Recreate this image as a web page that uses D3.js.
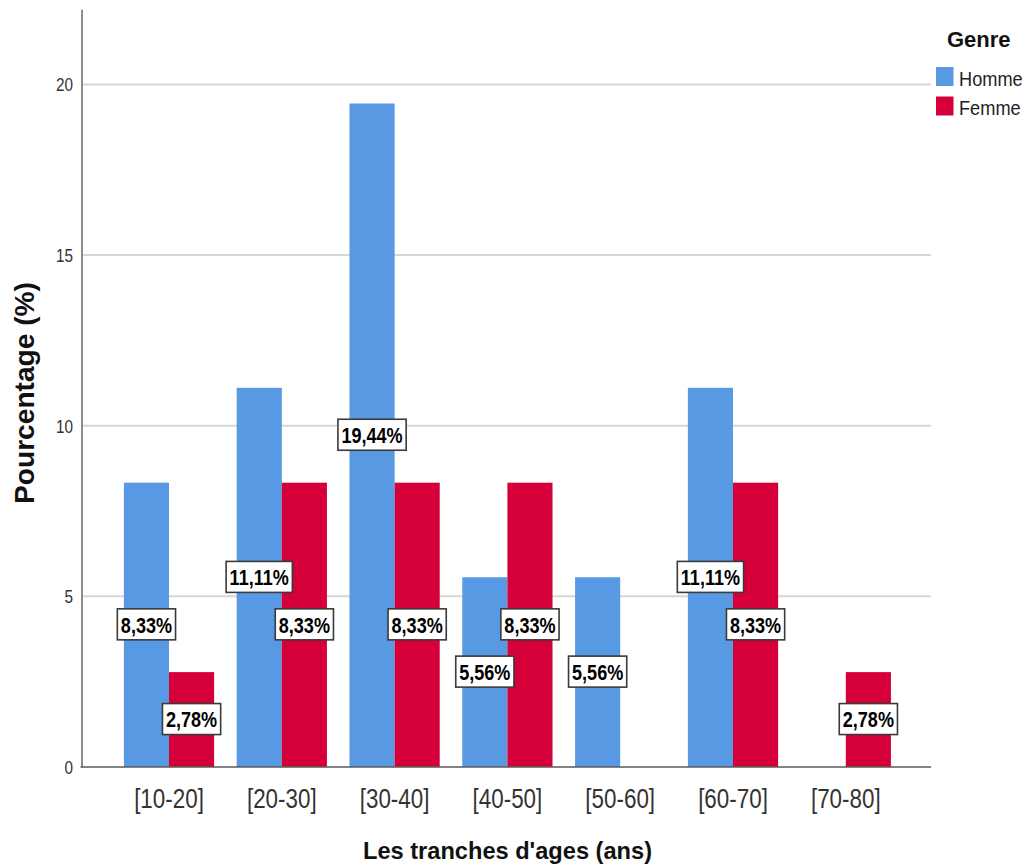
<!DOCTYPE html>
<html>
<head>
<meta charset="utf-8">
<script src="https://cdn.jsdelivr.net/npm/d3@7"></script>
<style>
  html, body { margin: 0; padding: 0; background: #fff; }
  svg { display: block; font-family: "Liberation Sans", Arial, sans-serif; }
</style>
</head>
<body>
<svg id="chart" width="1029" height="867"></svg>
<script>
// Age groups and percentage per gender
const categories = ["[10-20]", "[20-30]", "[30-40]", "[40-50]", "[50-60]", "[60-70]", "[70-80]"];
const seriesNames = ["Homme", "Femme"];
const homme = [8.33, 11.11, 19.44, 5.56, 5.56, 11.11, 0];
const femme = [2.78, 8.33, 8.33, 8.33, 0, 8.33, 2.78];
const yTicks = [0, 5, 10, 15, 20];
const seriesColors = ["#5899e3", "#d5003a"];

const svg = d3.select("#chart");

const plotLeft = 81.5, plotRight = 931, plotBottom = 767, plotTop = 9.3;

const y = d3.scaleLinear().domain([0, 22.2]).range([plotBottom, plotTop]);
const x = d3.scaleBand().domain(categories).range([112.6, 902.2])
  .paddingInner(0.2).paddingOuter(0.1);
const xs = d3.scaleBand().domain(seriesNames).range([0, x.bandwidth()]);
const color = d3.scaleOrdinal().domain(seriesNames).range(seriesColors);

const rows = categories.map((c, i) => ({
  cat: c,
  values: [{ s: "Homme", v: homme[i] }, { s: "Femme", v: femme[i] }]
}));

// horizontal grid lines
svg.append("g")
  .selectAll("line")
  .data(yTicks.filter(d => d > 0))
  .join("line")
  .attr("x1", plotLeft).attr("x2", plotRight)
  .attr("y1", d => y(d)).attr("y2", d => y(d))
  .attr("stroke", "#d6d6d6").attr("stroke-width", 2);

// bars
const groups = svg.append("g")
  .selectAll("g")
  .data(rows)
  .join("g")
  .attr("transform", d => `translate(${x(d.cat)},0)`);

groups.selectAll("rect")
  .data(d => d.values.filter(e => e.v > 0))
  .join("rect")
  .attr("x", d => xs(d.s))
  .attr("width", xs.bandwidth())
  .attr("y", d => y(d.v))
  .attr("height", d => y(0) - y(d.v))
  .attr("fill", d => color(d.s));

// y axis
const yAxis = svg.append("g")
  .attr("transform", `translate(${plotLeft},0)`)
  .call(d3.axisLeft(y).tickValues(yTicks).tickSize(0).tickSizeOuter(0));
yAxis.select(".domain").attr("stroke", "#8c8c8c").attr("stroke-width", 2);
const ky = 0.85;
yAxis.selectAll(".tick text")
  .attr("x", 0).attr("dy", null).attr("y", 0)
  .attr("transform", `translate(-8.5,6.5) scale(${ky},1)`)
  .style("font-family", '"Liberation Sans", Arial, sans-serif')
  .style("font-size", "18px")
  .attr("fill", "#333");

// x axis
const xAxis = svg.append("g")
  .attr("transform", `translate(0,${plotBottom})`)
  .call(d3.axisBottom(x).tickSize(0).tickSizeOuter(0));
xAxis.select(".domain").remove();
const kx = 0.8;
xAxis.selectAll(".tick text")
  .attr("y", 0).attr("dy", null)
  .attr("transform", `translate(0,41) scale(${kx},1)`)
  .style("font-family", '"Liberation Sans", Arial, sans-serif')
  .style("font-size", "28px")
  .attr("fill", "#333");

// baseline
svg.append("line")
  .attr("x1", plotLeft - 1).attr("x2", plotRight)
  .attr("y1", plotBottom).attr("y2", plotBottom)
  .attr("stroke", "#5a5a5a").attr("stroke-width", 1.5);

// value labels, centred at half bar height
const kl = 0.84;
const labels = svg.append("g")
  .selectAll("g")
  .data(rows.flatMap(r => r.values.filter(e => e.v > 0).map(e => ({ cat: r.cat, s: e.s, v: e.v }))))
  .join("g")
  .attr("transform", d => `translate(${x(d.cat) + xs(d.s) + xs.bandwidth() / 2},${y(d.v / 2)})`);

labels.each(function (d) {
  const g = d3.select(this);
  const rect = g.append("rect");
  const t = g.append("text")
    .attr("text-anchor", "middle")
    .attr("transform", `translate(0,7.8) scale(${kl},1)`)
    .style("font-size", "21.5px")
    .style("font-weight", "bold")
    .attr("fill", "#000")
    .text(d.v.toFixed(2).replace(".", ",") + "%");
  const w = t.node().getComputedTextLength() * kl + 7;
  const h = 31;
  rect.attr("x", -w / 2).attr("y", -h / 2 - 0.5)
    .attr("width", w).attr("height", h)
    .attr("fill", "#fff").attr("stroke", "#3a3a3a").attr("stroke-width", 1.6);
});

// axis titles
svg.append("text")
  .attr("x", 507.5).attr("y", 859)
  .attr("text-anchor", "middle")
  .attr("textLength", 289).attr("lengthAdjust", "spacingAndGlyphs")
  .style("font-size", "24.5px").style("font-weight", "bold")
  .attr("fill", "#111")
  .text("Les tranches d'ages (ans)");

svg.append("text")
  .attr("transform", "translate(34,393) rotate(-90)")
  .attr("text-anchor", "middle")
  .attr("textLength", 222).attr("lengthAdjust", "spacingAndGlyphs")
  .style("font-size", "28px").style("font-weight", "bold")
  .attr("fill", "#111")
  .text("Pourcentage (%)");

// legend
const legend = svg.append("g");
legend.append("text")
  .attr("x", 947).attr("y", 47)
  .style("font-size", "22px").style("font-weight", "bold")
  .attr("fill", "#111")
  .text("Genre");

const items = legend.selectAll("g.item")
  .data(seriesNames)
  .join("g")
  .attr("class", "item")
  .attr("transform", (d, i) => `translate(936,${67 + i * 29.5})`);
items.append("rect")
  .attr("width", 17.5).attr("height", 19)
  .attr("fill", d => color(d));
items.append("text")
  .attr("transform", "translate(23,18.5) scale(0.91,1)")
  .style("font-size", "20px")
  .attr("fill", "#222")
  .text(d => d);
</script>
</body>
</html>
